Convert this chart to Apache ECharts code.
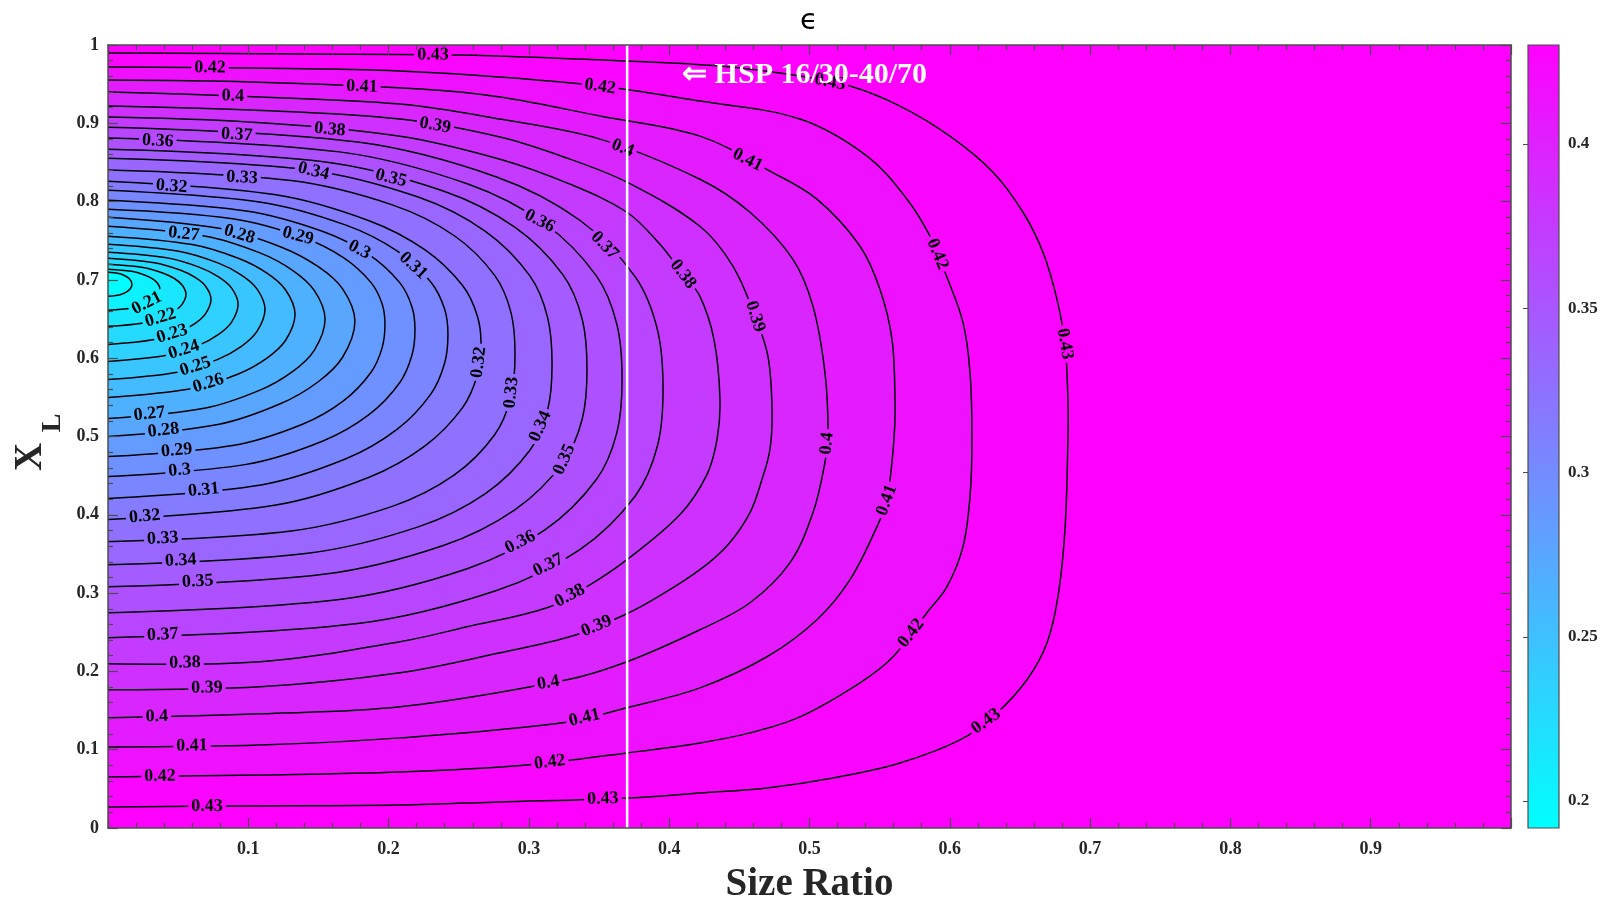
<!DOCTYPE html>
<html>
<head>
<meta charset="utf-8">
<title>epsilon contour</title>
<script src="https://cdn.jsdelivr.net/npm/echarts@6.0.0/dist/echarts.min.js"></script>
<style>
html,body{margin:0;padding:0;background:#ffffff;}
#chart{width:1602px;height:901px;}
</style>
</head>
<body>
<div id="chart"></div>
<script>
// ---------------- data ----------------
const levels = [0.20,0.21,0.22,0.23,0.24,0.25,0.26,0.27,0.28,0.29,0.30,0.31,0.32,0.33,0.34,0.35,0.36,0.37,0.38,0.39,0.40,0.41,0.42,0.43];

// each contour: [size ratio, X_L] from the upper left intercept round to the lower left intercept
const c20 = [[0,.7097],[.0077,.7081],[.0120,.7053],[.0145,.7025],[.0162,.6992],[.0171,.6944],[.0162,.6896],[.0145,.6863],[.0120,.6834],[.0077,.6806],[0,.6790]];
const c21 = [[0,.7136],[.0167,.7109],[.0260,.7063],[.0315,.7015],[.0352,.6960],[.0371,.6880],[.0352,.6796],[.0315,.6738],[.0260,.6688],[.0167,.6640],[0,.6611]];
const c22 = [[0,.7199],[.0250,.7158],[.0389,.7089],[.0473,.7018],[.0528,.6935],[.0556,.6816],[.0528,.6688],[.0473,.6600],[.0389,.6524],[.0250,.6451],[0,.6407]];
const c23 = [[0,.7276],[.0330,.7220],[.0514,.7126],[.0624,.7028],[.0697,.6915],[.0734,.6752],[.0697,.6572],[.0624,.6448],[.0514,.6341],[.0330,.6238],[0,.6176]];
const c24 = [[0,.7353],[.0417,.7282],[.0649,.7163],[.0788,.7038],[.0881,.6895],[.0927,.6688],[.0881,.6461],[.0788,.6304],[.0649,.6167],[.0417,.6037],[0,.5959]];
const c25 = [[0,.7455],[.0504,.7366],[.0783,.7217],[.0951,.7062],[.1063,.6883],[.1119,.6624],[.1063,.6345],[.0951,.6152],[.0783,.5985],[.0504,.5825],[0,.5729]];
const c26 = [[0,.7558],[.0600,.7451],[.0933,.7273],[.1133,.7086],[.1266,.6871],[.1333,.6560],[.1266,.6229],[.1133,.6001],[.0933,.5802],[.0600,.5613],[0,.5499]];
const c27 = [[0,.7685],[.0696,.7558],[.1083,.7345],[.1315,.7123],[.1470,.6867],[.1547,.6496],[.1470,.6101],[.1315,.5829],[.1083,.5592],[.0696,.5365],[0,.5230]];
const c28 = [[0,.7801],[.0792,.7659],[.1232,.7421],[.1496,.7172],[.1672,.6886],[.1760,.6471],[.1672,.6012],[.1496,.5696],[.1232,.5421],[.0792,.5157],[0,.5000]];
const c29 = [[0,.7903],[.0888,.7781],[.1382,.7547],[.1678,.7284],[.1875,.6965],[.1954,.6691],[.1974,.6432],[.1954,.6135],[.1875,.5821],[.1678,.5455],[.1382,.5153],[.0888,.4884],[0,.4744]];
const c30 = [[0,.8018],[.0985,.7881],[.1532,.7619],[.1860,.7323],[.2079,.6965],[.2166,.6658],[.2188,.6368],[.2166,.6037],[.2079,.5687],[.1860,.5279],[.1532,.4943],[.0985,.4644],[0,.4488]];
const c31 = [[0,.8146],[.1090,.7993],[.1696,.7700],[.2060,.7371],[.2302,.6971],[.2399,.6628],[.2423,.6304],[.2399,.5935],[.2302,.5545],[.2060,.5090],[.1696,.4715],[.1090,.4381],[0,.4207]];
const c32 = [[0,.8261],[.1197,.8088],[.1861,.7756],[.2260,.7383],[.2526,.6931],[.2632,.6543],[.2659,.6176],[.2632,.5782],[.2526,.5366],[.2260,.4881],[.1861,.4480],[.1197,.4125],[0,.3939]];
const c33 = [[0,.8402],[.1305,.8268],[.2031,.7955],[.2466,.7567],[.2756,.7058],[.2872,.6585],[.2901,.6049],[.2872,.5504],[.2756,.5023],[.2466,.4506],[.2031,.4111],[.1305,.3793],[0,.3657]];
const c34 = [[0,.8555],[.1424,.8405],[.2216,.8055],[.2690,.7620],[.3007,.7051],[.3133,.6522],[.3165,.5921],[.3133,.5338],[.3007,.4824],[.2690,.4271],[.2216,.3849],[.1424,.3509],[0,.3363]];
const c35 = [[0,.8670],[.1536,.8510],[.2390,.8136],[.2902,.7671],[.3243,.7064],[.3380,.6498],[.3414,.5857],[.3380,.5224],[.3243,.4667],[.2902,.4067],[.2390,.3609],[.1536,.3240],[0,.3082]];
const c36 = [[0,.8811],[.1649,.8635],[.2565,.8225],[.3114,.7717],[.3481,.7051],[.3627,.6432],[.3664,.5729],[.3627,.5050],[.3481,.4451],[.3114,.3807],[.2565,.3315],[.1649,.2919],[0,.2749]];
const c37 = [[0,.8951],[.1780,.8760],[.2769,.8315],[.3363,.7762],[.3758,.7038],[.3916,.6365],[.3956,.5601],[.3916,.4878],[.3758,.4241],[.3363,.3556],[.2769,.3033],[.1780,.2611],[0,.2430]];
const c38 = [[0,.9079],[.1012,.9015],[.2081,.8836],[.2794,.8542],[.3293,.8223],[.3699,.7864],[.3934,.7455],[.4098,.7072],[.4219,.6790],[.4319,.6240],[.4362,.5473],[.4341,.4962],[.4269,.4514],[.4077,.4003],[.3699,.3427],[.3414,.3082],[.3129,.2813],[.2559,.2570],[.2081,.2379],[.1083,.2123],[0,.2097]];
const c39 = [[0,.9220],[.1012,.9169],[.2081,.9054],[.2794,.8824],[.3293,.8542],[.3699,.8248],[.4219,.7685],[.4455,.7174],[.4612,.6535],[.4704,.6023],[.4733,.5345],[.4718,.4834],[.4661,.4450],[.4576,.4028],[.4419,.3619],[.4219,.3299],[.3934,.2967],[.3699,.2737],[.3314,.2455],[.2794,.2238],[.2081,.1982],[.1083,.1803],[0,.1765]];
const c40 = [[0,.9399],[.0891,.9348],[.2081,.9246],[.2794,.9054],[.3507,.8798],[.4219,.8286],[.4576,.7864],[.4882,.7263],[.5025,.6662],[.5110,.5818],[.5132,.5051],[.5110,.4668],[.5025,.4028],[.4861,.3389],[.4576,.2877],[.4219,.2532],[.3699,.2123],[.3272,.1893],[.2081,.1547],[.1083,.1458],[0,.1407]];
const c41 = [[0,.9552],[.1012,.9527],[.2224,.9437],[.2794,.9335],[.3507,.9092],[.4219,.8836],[.4718,.8389],[.5053,.8031],[.5360,.7430],[.5502,.6880],[.5588,.6240],[.5609,.5473],[.5602,.4962],[.5552,.4194],[.5481,.3849],[.5289,.3171],[.5053,.2660],[.4697,.2187],[.4219,.1790],[.3699,.1535],[.3243,.1343],[.2081,.1151],[.1083,.1061],[0,.1036]];
const c42 = [[0,.9719],[.1012,.9706],[.2081,.9668],[.3378,.9501],[.4219,.9284],[.4932,.9054],[.5410,.8581],[.5695,.8031],[.5859,.7558],[.5966,.7097],[.6094,.6458],[.6144,.5818],[.6158,.4962],[.6144,.4233],[.6094,.3593],[.5980,.3082],[.5837,.2749],[.5595,.2187],[.5360,.1854],[.4932,.1419],[.4576,.1215],[.4219,.1087],[.3699,.0959],[.2986,.0806],[.2081,.0716],[.1083,.0678],[0,.0652]];
const c43 = [[0,.9898],[.1368,.9885],[.2509,.9872],[.3699,.9795],[.4362,.9731],[.4932,.9604],[.5289,.9476],[.5645,.9220],[.6001,.8836],[.6308,.8376],[.6522,.7864],[.6664,.7353],[.6764,.6752],[.6821,.6176],[.6842,.5473],[.6842,.4962],[.6821,.3811],[.6771,.2954],[.6693,.2366],[.6550,.1893],[.6322,.1445],[.6073,.1125],[.5645,.0831],[.5168,.0639],[.4697,.0512],[.4220,.0448],[.3721,.0384],[.2794,.0332],[.2081,.0294],[.1012,.0281],[0,.0269]];

// contour labels: [level, size ratio, X_L]
const labelPoints = [
  [0.43,.2316,.9859],[0.43,.5146,.9527],[0.43,.6800,.6176],[0.43,.6251,.1381],[0.43,.3528,.0345],[0.43,.0706,.0256],
  [0.42,.0727,.9706],[0.42,.3507,.9463],[0.42,.5909,.7327],[0.42,.5738,.2468],[0.42,.3150,.0831],[0.42,.0371,.0652],
  [0.41,.1810,.9463],[0.41,.4562,.8542],[0.41,.5538,.4194],[0.41,.3400,.1381],[0.41,.0599,.1023],
  [0.40,.0891,.9348],[0.40,.3671,.8696],[0.40,.5132,.4910],[0.40,.3143,.1803],[0.40,.0349,.1394],
  [0.39,.2331,.8964],[0.39,.4619,.6535],[0.39,.3493,.2532],[0.39,.0706,.1765],
  [0.38,.1582,.8939],[0.38,.4098,.7072],[0.38,.3307,.2916],[0.38,.0549,.2097],
  [0.37,.0919,.8900],[0.37,.3564,.7481],[0.37,.3143,.3338],[0.37,.0392,.2430],
  [0.36,.0356,.8811],[0.36,.3065,.7711],[0.36,.2937,.3657],
  [0.35,.2010,.8248],[0.35,.3222,.4731],[0.35,.0641,.3082],
  [0.34,.1454,.8312],[0.34,.3036,.5166],[0.34,.0520,.3376],
  [0.33,.0955,.8299],[0.33,.2858,.5563],[0.33,.0392,.3645],
  [0.32,.0456,.8261],[0.32,.2651,.5946],[0.32,.0264,.3926],
  [0.31,.2145,.7123],[0.31,.0684,.4271],
  [0.30,.1782,.7353],[0.30,.0513,.4501],
  [0.29,.1347,.7519],[0.29,.0492,.4770],
  [0.28,.0941,.7609],[0.28,.0399,.5013],
  [0.27,.0542,.7621],[0.27,.0299,.5230],
  [0.26,.0727,.5614],[0.25,.0634,.5831],[0.24,.0549,.6061],[0.23,.0463,.6279],[0.22,.0378,.6496],[0.21,.0271,.6726]
];

const colorbarTicks = [0.2, 0.25, 0.3, 0.35, 0.4];
const cbMin = 0.1918, cbMax = 0.4301;
const hspRatio = 0.37;
const hspText = '\u21D0 HSP 16/30-40/70';
const titleText = '\u03F5';
const xName = 'Size Ratio';

// ---------------- drawing ----------------
const contourLines = [c20,c21,c22,c23,c24,c25,c26,c27,c28,c29,c30,c31,c32,c33,c34,c35,c36,c37,c38,c39,c40,c41,c42,c43];
const SERIF = '"Liberation Serif","Times New Roman",serif';
const SMOOTH = 0.35;
const AXC = '#4d4d4d';
const TXC = '#262626';

function cool(v) {
  let t = (v - cbMin) / (cbMax - cbMin);
  t = Math.max(0, Math.min(1, t));
  return 'rgb(' + Math.round(255 * t) + ',' + Math.round(255 * (1 - t)) + ',255)';
}
function fmt(v) { return String(Math.round(v * 100) / 100); }
function levelIndex(L) { return levels.findIndex(v => Math.round(v * 100) === Math.round(L * 100)); }

function renderFill(params, api) {
  const k = levels.length - 1 - params.dataIndex;   // outermost first
  const line = contourLines[k];
  const pts = line.map(p => api.coord(p));
  pts.push(api.coord([-0.05, line[line.length - 1][1]]));
  pts.push(api.coord([-0.05, line[0][1]]));
  return { type: 'polygon', shape: { points: pts, smooth: SMOOTH }, style: { fill: cool(levels[k] - 0.005) } };
}
function renderLine(params, api) {
  const pts = contourLines[params.dataIndex].map(p => api.coord(p));
  return { type: 'polyline', shape: { points: pts, smooth: SMOOTH }, style: { stroke: '#000', lineWidth: 1.5, fill: 'none' } };
}
function renderLabel(params, api) {
  const item = labelPoints[params.dataIndex];
  const k = levelIndex(item[0]);
  const pts = contourLines[k].map(p => api.coord(p));
  const P = api.coord([item[1], item[2]]);
  let best = null, bd = Infinity;
  for (let i = 0; i < pts.length - 1; i++) {
    const a = pts[i], b = pts[i + 1];
    const dx = b[0] - a[0], dy = b[1] - a[1];
    const len2 = dx * dx + dy * dy || 1;
    let t = ((P[0] - a[0]) * dx + (P[1] - a[1]) * dy) / len2;
    t = Math.max(0, Math.min(1, t));
    const qx = a[0] + t * dx, qy = a[1] + t * dy;
    const d = (P[0] - qx) * (P[0] - qx) + (P[1] - qy) * (P[1] - qy);
    if (d < bd) { bd = d; best = { x: qx, y: qy, ang: Math.atan2(dy, dx) }; }
  }
  let ang = best.ang;
  if (ang > Math.PI / 2) ang -= Math.PI; else if (ang <= -Math.PI / 2) ang += Math.PI;
  return {
    type: 'text', x: best.x, y: best.y, rotation: -ang,
    style: {
      text: fmt(item[0]), fill: '#000', font: 'bold 18px ' + SERIF,
      align: 'center', verticalAlign: 'middle', textAlign: 'center', textVerticalAlign: 'middle',
      backgroundColor: cool(item[0]), padding: [0, 3], lineHeight: 13
    }
  };
}
function renderHsp(params, api) {
  const top = api.coord([api.value(0), 1]);
  const bottom = api.coord([api.value(0), 0]);
  return {
    type: 'group',
    children: [
      { type: 'line', shape: { x1: top[0], y1: top[1], x2: bottom[0], y2: bottom[1] }, style: { stroke: '#ffffff', lineWidth: 2.5 } },
      { type: 'text', x: top[0] + 55, y: top[1] + 30,
        style: { text: hspText, fill: '#ffffff', font: 'bold 30px ' + SERIF, align: 'left', verticalAlign: 'middle', textAlign: 'left', textVerticalAlign: 'middle' } }
    ]
  };
}
function renderColorbar(params, api) {
  const p0 = api.coord([0, cbMin]), p1 = api.coord([1, cbMax]);
  return {
    type: 'rect',
    shape: { x: p0[0], y: p1[1], width: p1[0] - p0[0], height: p0[1] - p1[1] },
    style: {
      fill: { type: 'linear', x: 0, y: 1, x2: 0, y2: 0, colorStops: [{ offset: 0, color: cool(cbMin) }, { offset: 1, color: cool(cbMax) }] },
      stroke: AXC, lineWidth: 1.2
    }
  };
}

function frameAxis(extra) {
  return Object.assign({
    type: 'value', min: 0, max: 1, interval: 0.1, gridIndex: 0, z: 10,
    axisLine: { show: true, onZero: false, lineStyle: { color: AXC, width: 1.5 } },
    axisTick: { show: true, inside: true, length: 10, lineStyle: { color: AXC, width: 1.2 } },
    minorTick: { show: true, splitNumber: 5, length: 5, lineStyle: { color: AXC, width: 1.2 } },
    splitLine: { show: false },
    minorSplitLine: { show: false },
    axisLabel: { show: false }
  }, extra);
}
const tickLabelStyle = { show: true, color: TXC, fontFamily: SERIF, fontWeight: 'bold', fontSize: 18, formatter: v => String(Math.round(v * 10) / 10) };

const chart = echarts.init(document.getElementById('chart'), null, { renderer: 'canvas', width: 1602, height: 901 });
chart.setOption({
  animation: false,
  backgroundColor: '#ffffff',
  grid: [
    { left: 108, top: 45, width: 1403, height: 783, show: true, backgroundColor: cool(cbMax), borderWidth: 0, outerBoundsMode: 'none', containLabel: false },
    { left: 1528, top: 45, width: 31, height: 783, outerBoundsMode: 'none', containLabel: false }
  ],
  xAxis: [
    frameAxis({ position: 'bottom', axisLabel: Object.assign({}, tickLabelStyle, { margin: 12, showMinLabel: false, showMaxLabel: false }),
      name: xName, nameLocation: 'middle', nameGap: 37,
      nameTextStyle: { fontFamily: SERIF, fontWeight: 'bold', fontSize: 39, color: TXC } }),
    frameAxis({ position: 'top' }),
    { type: 'value', gridIndex: 1, min: 0, max: 1, show: false }
  ],
  yAxis: [
    frameAxis({ position: 'left', axisLabel: Object.assign({}, tickLabelStyle, { margin: 9 }) }),
    frameAxis({ position: 'right' }),
    { type: 'value', gridIndex: 1, min: cbMin, max: cbMax, position: 'right', z: 10,
      axisLine: { show: false },
      axisTick: { show: true, inside: true, length: 5, customValues: colorbarTicks, lineStyle: { color: AXC, width: 1 } },
      axisLabel: { show: true, customValues: colorbarTicks, margin: 9, color: TXC, fontFamily: SERIF, fontWeight: 'bold', fontSize: 17, formatter: v => fmt(v) },
      splitLine: { show: false } }
  ],
  graphic: [
    { type: 'text', x: 809, y: 21, z: 20,
      style: { text: titleText, font: '29px "DejaVu Sans"', fill: '#000', align: 'center', verticalAlign: 'middle', textAlign: 'center', textVerticalAlign: 'middle' } },
    { type: 'text', x: 31, y: 457, rotation: Math.PI / 2, z: 20,
      style: { text: 'X', font: 'bold 39px ' + SERIF, fill: TXC, align: 'center', verticalAlign: 'middle', textAlign: 'center', textVerticalAlign: 'middle' } },
    { type: 'text', x: 53, y: 423, rotation: Math.PI / 2, z: 20,
      style: { text: 'L', font: 'bold 28px ' + SERIF, fill: TXC, align: 'center', verticalAlign: 'middle', textAlign: 'center', textVerticalAlign: 'middle' } }
  ],
  series: [
    { type: 'custom', name: 'fill', xAxisIndex: 0, yAxisIndex: 0, clip: true, z: 1, silent: true,
      renderItem: renderFill, data: levels.map(() => [0, 0]) },
    { type: 'custom', name: 'contours', xAxisIndex: 0, yAxisIndex: 0, clip: true, z: 2, silent: true,
      renderItem: renderLine, data: levels.map(() => [0, 0]) },
    { type: 'custom', name: 'labels', xAxisIndex: 0, yAxisIndex: 0, clip: true, z: 3, silent: true,
      renderItem: renderLabel, data: labelPoints.map(p => [p[1], p[2]]) },
    { type: 'custom', name: 'hsp', xAxisIndex: 0, yAxisIndex: 0, clip: false, z: 4, silent: true,
      renderItem: renderHsp, data: [[hspRatio, 1]] },
    { type: 'custom', name: 'colorbar', xAxisIndex: 2, yAxisIndex: 2, z: 1, silent: true,
      renderItem: renderColorbar, data: [[0, cbMin]] }
  ]
});
</script>
</body>
</html>
